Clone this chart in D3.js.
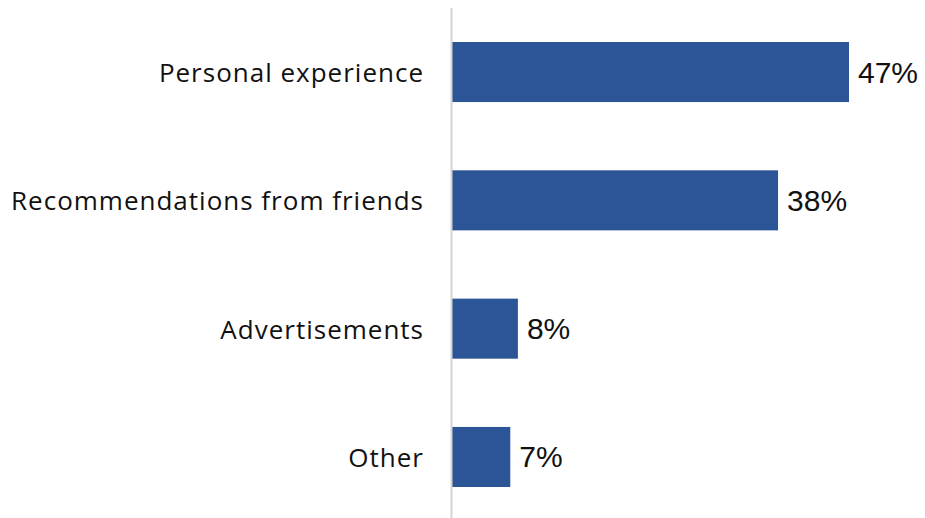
<!DOCTYPE html>
<html>
<head>
<meta charset="utf-8">
<script src="https://cdn.jsdelivr.net/npm/d3@7"></script>
<style>
  html, body { margin: 0; padding: 0; background: #fff; }
  svg { display: block; }
  text { font-family: "Liberation Sans", Arial, sans-serif; fill: #111; }
  text.cat { font-family: "Open Sans", "Liberation Sans", sans-serif; letter-spacing: 1px; }
</style>
</head>
<body>
<svg id="chart" width="925" height="518"></svg>
<script>
const categories = ["Personal experience", "Recommendations from friends", "Advertisements", "Other"];
const values = [47, 38.6, 7.8, 6.9];
const valueLabels = ["47%", "38%", "8%", "7%"];

const svg = d3.select("#chart");
const x0 = 452;

const x = d3.scaleLinear().domain([0, 47]).range([x0, 849]);
const y = d3.scaleBand().domain(categories).range([8, 521]).paddingInner(0.532).paddingOuter(0.265);

svg.selectAll("rect.bar")
  .data(categories)
  .join("rect")
  .attr("class", "bar")
  .attr("x", x(0))
  .attr("y", d => y(d))
  .attr("width", (d, i) => x(values[i]) - x(0))
  .attr("height", y.bandwidth())
  .attr("fill", "#2C5597");

svg.append("line")
  .attr("x1", x0 - 0.5).attr("x2", x0 - 0.5)
  .attr("y1", 8).attr("y2", 518)
  .attr("stroke", "#d4d4d4").attr("stroke-width", 2);

svg.selectAll("text.cat")
  .data(categories)
  .join("text")
  .attr("class", "cat")
  .attr("x", 424)
  .attr("y", d => y(d) + y.bandwidth() / 2)
  .attr("text-anchor", "end")
  .attr("dominant-baseline", "central")
  .style("font-size", "26px")
  .text(d => d);

svg.selectAll("text.val")
  .data(categories)
  .join("text")
  .attr("class", "val")
  .attr("x", (d, i) => x(values[i]) + 9)
  .attr("y", d => y(d) + y.bandwidth() / 2)
  .attr("dominant-baseline", "central")
  .style("font-size", "30px")
  .text((d, i) => valueLabels[i]);
</script>
</body>
</html>
